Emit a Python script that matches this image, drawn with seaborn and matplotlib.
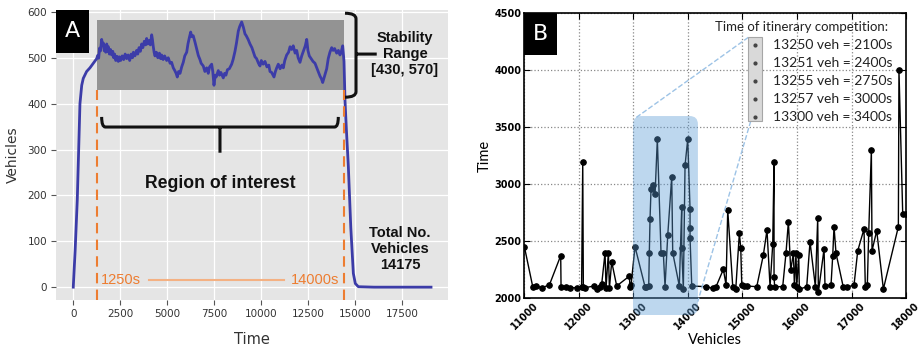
import seaborn as sns
import matplotlib.pyplot as plt
from matplotlib.patches import Rectangle, FancyBboxPatch, PathPatch
from matplotlib.path import Path

# Panel A: vehicles in the network over time
time_s = [0, 100, 213, 300, 356, 450, 532, 710, 888, 1064,
          1245, 1300, 1350, 1400, 1450, 1511, 1560, 1600, 1650, 1686, 1730, 1780, 1820,
          1866, 1920, 1980, 2042, 2100, 2150, 2200, 2260, 2330, 2395, 2450, 2520, 2600,
          2680, 2760, 2840, 2920, 3000, 3080, 3150, 3200, 3280, 3372, 3430, 3500, 3570,
          3638, 3700, 3780, 3850, 3904, 3960, 4050, 4100, 4170, 4210, 4250, 4300, 4346,
          4420, 4500, 4580, 4650, 4700, 4780, 4860, 4968, 5050, 5150, 5230, 5319, 5400,
          5470, 5532, 5600, 5680, 5766, 5850, 5930, 6032, 6100, 6180, 6245, 6300, 6380,
          6474, 6560, 6650, 6739, 6800, 6915, 7000, 7095, 7181, 7250, 7361, 7420, 7484,
          7550, 7600, 7713, 7780, 7850, 7979, 8050, 8120, 8200, 8300, 8425, 8500, 8601,
          8680, 8777, 8850, 8957, 9050, 9133, 9200, 9300, 9399, 9500, 9580, 9665, 9750,
          9850, 9931, 10000, 10100, 10197, 10300, 10400, 10463, 10550, 10676, 10750,
          10820, 10905, 11000, 11100, 11171, 11250, 11350, 11450, 11530, 11617, 11700,
          11800, 11883, 11960, 12058, 12150, 12220, 12272, 12340, 12415, 12480, 12553,
          12650, 12750, 12856, 12950, 13050, 13122, 13200, 13266, 13350, 13420, 13478,
          13560, 13650, 13744, 13820, 13900, 14010, 14100, 14186, 14260, 14330, 14399,
          14452, 14530, 14630, 14760, 14896, 15000, 15160, 16000, 17000, 18000, 19027]
vehicles = [0, 80, 190, 320, 400, 440, 455, 470, 478, 488,
            498, 505, 499, 521, 515, 540, 528, 532, 515, 524, 512, 530, 514,
            524, 508, 518, 506, 514, 500, 508, 494, 503, 492, 502, 494, 504,
            496, 508, 498, 506, 494, 508, 500, 512, 504, 516, 508, 522, 514,
            530, 522, 536, 528, 542, 530, 538, 528, 550, 540, 526, 512, 504,
            512, 500, 510, 498, 506, 496, 504, 494, 500, 488, 490, 478, 472,
            466, 458, 470, 466, 480, 490, 504, 512, 530, 545, 556, 546, 548,
            534, 520, 505, 496, 488, 482, 470, 478, 466, 480, 486, 470, 440,
            462, 458, 472, 462, 468, 456, 466, 462, 474, 476, 486, 496, 514,
            532, 558, 568, 578, 566, 552, 548, 540, 530, 522, 512, 502, 498,
            488, 482, 494, 486, 492, 480, 484, 470, 468, 458, 470,
            478, 486, 476, 484, 478, 494, 506, 512, 524, 518, 526,
            510, 516, 500, 490, 504, 512, 518, 526, 540, 516, 504,
            498, 492, 488, 478, 468, 460, 454, 446, 458, 468, 476,
            498, 512, 522, 516, 520, 510, 516, 506, 514, 526, 492,
            407, 340, 263, 130, 30, 8, 1, 0, 0, 0, 0]

# Panel B: arrival time per vehicle
veh_id = [11000, 11154, 11215, 11319, 11459, 11667, 11673, 11765, 11837, 11972,
          12050, 12071, 12082, 12112, 12278, 12328, 12388, 12419, 12480, 12498,
          12541, 12560, 12602, 12694, 12926, 12938, 12957, 13030, 13213, 13232,
          13281, 13292, 13305, 13323, 13354, 13397, 13439, 13507, 13549, 13580,
          13630, 13703, 13721, 13842, 13886, 13886, 13916, 13947, 13996, 14039,
          14039, 14039, 14070, 14332, 14455, 14516, 14650, 14699, 14730, 14822,
          14877, 14943, 14969, 14987, 15030, 15078, 15262, 15383, 15450, 15506,
          15555, 15579, 15579, 15590, 15738, 15799, 15842, 15885, 15934, 15952,
          15982, 15995, 16032, 16043, 16178, 16239, 16337, 16380, 16392, 16496,
          16514, 16624, 16655, 16679, 16716, 16850, 16911, 17046, 17114, 17229,
          17253, 17290, 17315, 17364, 17376, 17462, 17584, 17859, 17870, 17939,
          17990]
arrival = [2450, 2097, 2103, 2088, 2112, 2370, 2097, 2091, 2088, 2088,
           2091, 3190, 2097, 2088, 2103, 2074, 2097, 2120, 2396, 2083,
           2396, 2083, 2316, 2103, 2190, 2091, 2112, 2448, 2097, 2097,
           2103, 2396, 2692, 2953, 2991, 2909, 3392, 2390, 2390, 2097,
           2551, 3064, 2396, 2103, 2795, 2434, 2074, 3164, 3392, 2780,
           2615, 2522, 2103, 2097, 2083, 2097, 2250, 2112, 2771, 2097,
           2074, 2566, 2434, 2112, 2105, 2103, 2097, 2375, 2595, 2097,
           2469, 3190, 2185, 2097, 2097, 2396, 2668, 2243, 2390, 2112,
           2390, 2097, 2375, 2074, 2097, 2492, 2097, 2698, 2047, 2428,
           2103, 2112, 2367, 2624, 2390, 2091, 2091, 2112, 2413, 2604,
           2097, 2112, 2566, 3298, 2413, 2589, 2076, 2624, 4000, 2736,
           2740]

competition_lines = ['13250 veh = 2100s', '13251 veh = 2400s', '13255 veh = 2750s',
                     '13257 veh = 3000s', '13300 veh = 3400s']

ORANGE = '#ED7D31'
BOLD = dict(family='Liberation Sans', fontweight='bold', color='#111111')

fig = plt.figure(figsize=(9.22, 3.48), dpi=100)

# ---------------- panel A ----------------
axA = fig.add_axes([0.0607, 0.1379, 0.4252, 0.8333])
axA.set_facecolor('#E5E5E5')
for s in axA.spines.values():
    s.set_visible(False)
axA.grid(True, color='white', lw=0.9)
axA.set_axisbelow(True)

sns.lineplot(x=time_s, y=vehicles, ax=axA, color='#3C3CA8', lw=2.0, zorder=3)

axA.add_patch(Rectangle((1250, 430), 14400 - 1250, 583 - 430,
                        fc='#939393', ec='none', zorder=2))
for xv in (1250, 14400):
    axA.plot([xv, xv], [-28, 430], color=ORANGE, lw=1.5, ls=(0, (5, 3)), zorder=4)
axA.plot([4043, 11224], [16, 16], color='#F4B183', lw=1.5, zorder=4)
axA.text(1473, 16, '1250s', color=ORANGE, fontsize=10.5, family='Liberation Sans',
         ha='left', va='center', zorder=5)
axA.text(14150, 16, '14000s', color=ORANGE, fontsize=10.5, family='Liberation Sans',
         ha='right', va='center', zorder=5)

# horizontal brace over the region of interest
x0, x1, xm, yt, yf, ytip, dx = 1510, 14096, 7803, 371, 349, 293, 200
hb = Path([(x0, yt), (x0, yf), (x0 + dx, yf), (x1 - dx, yf), (x1, yf), (x1, yt),
           (xm, yf), (xm, ytip)],
          [Path.MOVETO, Path.CURVE3, Path.CURVE3, Path.LINETO, Path.CURVE3, Path.CURVE3,
           Path.MOVETO, Path.LINETO])
axA.add_patch(PathPatch(hb, fc='none', ec='#111111', lw=2.2, zorder=5))

# vertical brace for the stability range
bx0, bx1, btip, by0, by1, bym, dy = 14452, 15037, 16140, 414, 597, 508, 12
vb = Path([(bx0, by1), (bx1, by1), (bx1, by1 - dy), (bx1, by0 + dy), (bx1, by0), (bx0, by0),
           (bx1, bym), (btip, bym)],
          [Path.MOVETO, Path.CURVE3, Path.CURVE3, Path.LINETO, Path.CURVE3, Path.CURVE3,
           Path.MOVETO, Path.LINETO])
axA.add_patch(PathPatch(vb, fc='none', ec='#111111', lw=2.2, zorder=5))

axA.text(17643, 508, 'Stability\nRange\n[430, 570]', fontsize=10.5, ha='center',
         va='center', linespacing=1.2, **BOLD)
axA.text(17377, 83, 'Total No.\nVehicles\n14175', fontsize=10.5, ha='center',
         va='center', linespacing=1.2, **BOLD)
axA.text(7810, 227, 'Region of interest', fontsize=12.7, ha='center', va='center', **BOLD)

axA.add_patch(Rectangle((0, 0.852), 0.085, 0.148, transform=axA.transAxes,
                        fc='black', ec='none', zorder=6, clip_on=False))
axA.text(0.0425, 0.926, 'A', transform=axA.transAxes, color='white', fontsize=16,
         ha='center', va='center', zorder=7)

axA.set_xlim(-920, 19930)
axA.set_ylim(-28, 604)
axA.set_xticks(range(0, 17501, 2500))
axA.set_yticks(range(0, 601, 100))
axA.tick_params(direction='out', length=3.5, width=0.8, color='#555555',
                labelcolor='#333333', labelsize=7.5, pad=3)
axA.set_xlabel('Time', fontsize=10.5, color='#333333', labelpad=9)
axA.set_ylabel('Vehicles', fontsize=10, color='#333333', labelpad=5)

# ---------------- panel B ----------------
axB = fig.add_axes([0.5687, 0.1445, 0.4140, 0.8172])
axB.set_facecolor('white')
for s in axB.spines.values():
    s.set_color('black')
    s.set_linewidth(1.2)
axB.grid(True, color='#888888', ls=':', lw=0.9)
axB.set_axisbelow(True)

sns.lineplot(x=veh_id, y=arrival, ax=axB, estimator=None, sort=False, color='black',
             lw=1, marker='o', markersize=4, markeredgecolor='black', zorder=3)

blue = FancyBboxPatch((12993, 1848), 14183 - 12993, 3597 - 1848,
                      boxstyle='round,pad=0,rounding_size=150', mutation_aspect=0.48,
                      fc='#5B9BD5', ec='none', alpha=0.4, zorder=4, clip_on=False)
axB.add_patch(blue)
axB.plot([15108, 13030], [4289, 3577], color='#9DC3E6', lw=1, ls='--', zorder=4)
axB.plot([15152, 14180], [3553, 1965], color='#9DC3E6', lw=1, ls='--', zorder=4,
         clip_on=False)

axB.add_patch(Rectangle((15108, 3553), 257, 736, fc='#D9D9D9', ec='#A6A6A6',
                        lw=0.8, zorder=5))
axB.text(17670, 4377, 'Time of itinerary competition:', family='Lato', fontsize=9.5,
         ha='right', va='center', color='#222222', zorder=6)
entry_y = [4221, 4060, 3905, 3747, 3591]
for label, yv in zip(competition_lines, entry_y):
    axB.plot([15236], [yv], marker='o', ms=2, color='#444444', zorder=6)
    axB.text(15555, yv, label, family='Lato', fontsize=10, ha='left', va='center',
             color='#222222', zorder=6)

axB.add_patch(Rectangle((0, 0.853), 0.0857, 0.147, transform=axB.transAxes,
                        fc='black', ec='none', zorder=6, clip_on=False))
axB.text(0.043, 0.926, 'B', transform=axB.transAxes, color='white', fontsize=16,
         ha='center', va='center', zorder=7)

axB.set_xlim(11000, 18000)
axB.set_ylim(2000, 4500)
axB.set_xticks(range(11000, 18001, 1000))
axB.set_yticks(range(2000, 4501, 500))
axB.tick_params(direction='in', length=4, width=0.8, top=True, right=True,
                labelsize=7, pad=2)
for lab in axB.get_xticklabels() + axB.get_yticklabels():
    lab.set_fontweight('bold')
plt.setp(axB.get_xticklabels(), rotation=45)
axB.set_xlabel('Vehicles', family='Lato', fontsize=10.5, labelpad=1)
axB.set_ylabel('Time', family='Lato', fontsize=10.5, labelpad=2)

fig.savefig('out.png', dpi=100)
